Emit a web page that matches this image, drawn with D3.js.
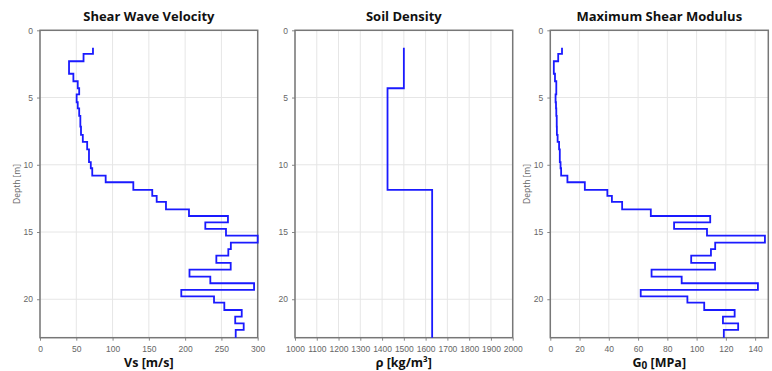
<!DOCTYPE html>
<html>
<head>
<meta charset="utf-8">
<script src="https://cdn.jsdelivr.net/npm/d3@7"></script>
<style>
  body { margin: 0; background: #fff; }
  svg { font-family: "Open Sans", "Noto Sans", sans-serif; }
  .grid line { stroke: #e6e6e6; stroke-width: 1; }
  .tick text { fill: #666; font-size: 8.5px; }
  .tick line { stroke: #888; }
</style>
</head>
<body>
<svg id="chart" width="772" height="371"></svg>
<script>
// layer boundaries (depth, m) - 41 boundaries for 40 layers
var depthBounds = [1.29, 1.76, 2.30, 3.23, 3.79, 4.31, 4.76, 5.35, 5.80, 6.37,
  7.17, 7.78, 8.30, 8.85, 9.81, 10.26, 10.81, 11.30, 11.87, 12.31,
  12.76, 13.31, 13.81, 14.28, 14.77, 15.27, 15.79, 16.28, 16.76, 17.30,
  17.80, 18.32, 18.81, 19.31, 19.78, 20.25, 20.80, 21.30, 21.79, 22.28, 22.86];

// shear wave velocity per layer (m/s)
var vs = [73, 60, 40, 46, 52, 54, 50.5, 52, 54, 55.6,
  56.5, 59, 65, 67.5, 70, 72, 90.5, 128.6, 154.7, 160.8,
  173.6, 205.3, 259, 227.8, 256.3, 300, 263, 259.5, 243, 262.8,
  206, 234.7, 295, 194.7, 239.8, 254, 278, 269, 280.7, 269.7];

// soil density per layer (kg/m3)
var rho = [1500, 1500, 1500, 1500, 1500, 1425, 1425, 1425, 1425, 1425,
  1425, 1425, 1425, 1425, 1425, 1425, 1425, 1425, 1630, 1630,
  1630, 1630, 1630, 1630, 1630, 1630, 1630, 1630, 1630, 1630,
  1630, 1630, 1630, 1630, 1630, 1630, 1630, 1630, 1630, 1630];

// maximum shear modulus per layer (MPa)
var g0 = [8.0, 5.4, 2.4, 3.2, 4.1, 4.1, 3.6, 3.9, 4.1, 4.4,
  4.5, 5.0, 6.0, 6.5, 7.0, 7.4, 11.7, 23.6, 39.0, 42.1,
  49.1, 68.7, 109.3, 84.6, 107.1, 146.7, 112.7, 109.8, 96.3, 112.6,
  69.2, 89.8, 141.9, 61.8, 93.7, 105.2, 126.0, 118.0, 128.4, 118.6];

var depthTicks = [0, 5, 10, 15, 20];
var vsTicks = [0, 50, 100, 150, 200, 250, 300];
var rhoTicks = [1000, 1100, 1200, 1300, 1400, 1500, 1600, 1700, 1800, 1900, 2000];
var g0Ticks = [0, 20, 40, 60, 80, 100, 120, 140];

var panels = [
  { title: "Shear Wave Velocity", values: vs, domain: [0, 300], ticks: vsTicks,
    left: 40, right: 257.7, label: "Vs [m/s]", depthLabel: true },
  { title: "Soil Density", values: rho, domain: [1000, 2000], ticks: rhoTicks,
    left: 295, right: 512.7, label: "rho", depthLabel: false },
  { title: "Maximum Shear Modulus", values: g0, domain: [0, 149], ticks: g0Ticks,
    left: 550.3, right: 768.3, label: "g0", depthLabel: true }
];

var TOP = 30.3, BOTTOM = 337.7;
var svg = d3.select("#chart");

var y = d3.scaleLinear().domain([0, 22.86]).range([TOP, BOTTOM]);

panels.forEach(function (p) {
  var x = d3.scaleLinear().domain(p.domain).range([p.left, p.right]);
  var g = svg.append("g");

  // grid
  var grid = g.append("g").attr("class", "grid");
  grid.selectAll("line.v").data(p.ticks).enter().append("line")
    .attr("x1", function (d) { return x(d); }).attr("x2", function (d) { return x(d); })
    .attr("y1", TOP).attr("y2", BOTTOM);
  grid.selectAll("line.h").data(depthTicks).enter().append("line")
    .attr("y1", function (d) { return y(d); }).attr("y2", function (d) { return y(d); })
    .attr("x1", p.left).attr("x2", p.right);

  // axes
  var xa = g.append("g")
    .attr("transform", "translate(0," + BOTTOM + ")")
    .call(d3.axisBottom(x).tickValues(p.ticks).tickSize(3).tickPadding(5).tickFormat(d3.format("d")));
  xa.select(".domain").remove();
  var ya = g.append("g")
    .attr("transform", "translate(" + p.left + ",0)")
    .call(d3.axisLeft(y).tickValues(depthTicks).tickSize(3).tickPadding(4));
  ya.select(".domain").remove();

  // frame
  g.append("rect")
    .attr("x", p.left).attr("y", TOP)
    .attr("width", p.right - p.left).attr("height", BOTTOM - TOP)
    .attr("fill", "none").attr("stroke", "#777").attr("stroke-width", 1.5);

  // step profile
  var pts = [];
  for (var i = 0; i < p.values.length; i++) {
    pts.push([p.values[i], depthBounds[i]]);
    pts.push([p.values[i], depthBounds[i + 1]]);
  }
  g.append("path")
    .datum(pts)
    .attr("fill", "none")
    .attr("stroke", "#1a1aff")
    .attr("stroke-width", 1.8)
    .attr("stroke-linejoin", "miter")
    .attr("d", d3.line().x(function (d) { return x(d[0]); }).y(function (d) { return y(d[1]); }));

  // title
  var cx = (p.left + p.right) / 2;
  g.append("text")
    .attr("x", cx).attr("y", 20.5)
    .attr("text-anchor", "middle")
    .attr("font-size", "13px").attr("font-weight", "bold").attr("fill", "#111")
    .text(p.title);

  // x label
  var lab = g.append("text")
    .attr("x", cx).attr("y", 367)
    .attr("text-anchor", "middle")
    .attr("font-size", "12.5px").attr("font-weight", "bold").attr("fill", "#111");
  if (p.label === "rho") {
    lab.text("ρ [kg/m³]");
  } else if (p.label === "g0") {
    lab.append("tspan").text("G");
    lab.append("tspan").attr("font-size", "10px").attr("dy", 1.5).text("0");
    lab.append("tspan").attr("dy", -1.5).text(" [MPa]");
  } else {
    lab.text(p.label);
  }

  // depth label
  if (p.depthLabel) {
    g.append("text")
      .attr("transform", "translate(" + (p.left - 20) + "," + ((TOP + BOTTOM) / 2) + ") rotate(-90)")
      .attr("text-anchor", "middle")
      .attr("font-size", "8.5px").attr("fill", "#666")
      .text("Depth [m]");
  }
});
</script>
</body>
</html>
